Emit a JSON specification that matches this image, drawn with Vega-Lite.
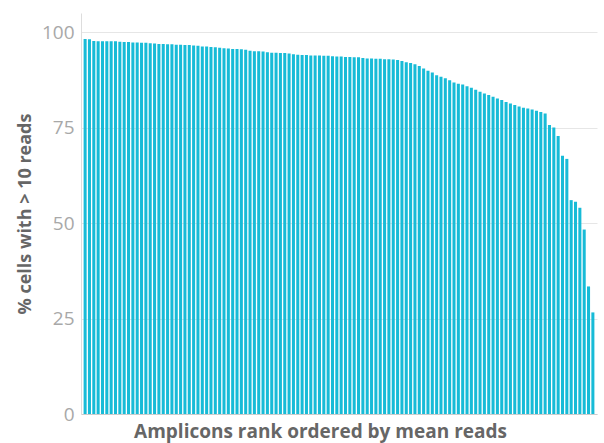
{
  "$schema": "https://vega.github.io/schema/vega-lite/v6.json",
  "width": 516,
  "height": 401,
  "autosize": {"type": "none"},
  "padding": {"left": 81, "top": 13, "right": 7, "bottom": 29},
  "background": "white",
  "config": {
    "view": {"stroke": null},
    "font": "Open Sans"
  },
  "data": {
    "values": [
      {"rank": 1, "pct": 98.2}, {"rank": 2, "pct": 98.1}, {"rank": 3, "pct": 97.7}, {"rank": 4, "pct": 97.6},
      {"rank": 5, "pct": 97.6}, {"rank": 6, "pct": 97.6}, {"rank": 7, "pct": 97.6}, {"rank": 8, "pct": 97.6},
      {"rank": 9, "pct": 97.5}, {"rank": 10, "pct": 97.4}, {"rank": 11, "pct": 97.4}, {"rank": 12, "pct": 97.3},
      {"rank": 13, "pct": 97.3}, {"rank": 14, "pct": 97.2}, {"rank": 15, "pct": 97.2}, {"rank": 16, "pct": 97.1},
      {"rank": 17, "pct": 97.0}, {"rank": 18, "pct": 96.9}, {"rank": 19, "pct": 96.9}, {"rank": 20, "pct": 96.8},
      {"rank": 21, "pct": 96.8}, {"rank": 22, "pct": 96.7}, {"rank": 23, "pct": 96.7}, {"rank": 24, "pct": 96.6},
      {"rank": 25, "pct": 96.6}, {"rank": 26, "pct": 96.5}, {"rank": 27, "pct": 96.4}, {"rank": 28, "pct": 96.2},
      {"rank": 29, "pct": 96.2}, {"rank": 30, "pct": 96.1}, {"rank": 31, "pct": 96.0}, {"rank": 32, "pct": 95.9},
      {"rank": 33, "pct": 95.8}, {"rank": 34, "pct": 95.7}, {"rank": 35, "pct": 95.6}, {"rank": 36, "pct": 95.6},
      {"rank": 37, "pct": 95.5}, {"rank": 38, "pct": 95.4}, {"rank": 39, "pct": 95.1}, {"rank": 40, "pct": 95.0},
      {"rank": 41, "pct": 95.0}, {"rank": 42, "pct": 94.9}, {"rank": 43, "pct": 94.7}, {"rank": 44, "pct": 94.6},
      {"rank": 45, "pct": 94.6}, {"rank": 46, "pct": 94.5}, {"rank": 47, "pct": 94.5}, {"rank": 48, "pct": 94.4},
      {"rank": 49, "pct": 94.2}, {"rank": 50, "pct": 94.1}, {"rank": 51, "pct": 94.0}, {"rank": 52, "pct": 94.0},
      {"rank": 53, "pct": 93.9}, {"rank": 54, "pct": 93.9}, {"rank": 55, "pct": 93.9}, {"rank": 56, "pct": 93.8},
      {"rank": 57, "pct": 93.8}, {"rank": 58, "pct": 93.7}, {"rank": 59, "pct": 93.6}, {"rank": 60, "pct": 93.6},
      {"rank": 61, "pct": 93.5}, {"rank": 62, "pct": 93.5}, {"rank": 63, "pct": 93.4}, {"rank": 64, "pct": 93.4},
      {"rank": 65, "pct": 93.2}, {"rank": 66, "pct": 93.1}, {"rank": 67, "pct": 93.1}, {"rank": 68, "pct": 93.0},
      {"rank": 69, "pct": 93.0}, {"rank": 70, "pct": 92.9}, {"rank": 71, "pct": 92.9}, {"rank": 72, "pct": 92.8},
      {"rank": 73, "pct": 92.7}, {"rank": 74, "pct": 92.4}, {"rank": 75, "pct": 92.1}, {"rank": 76, "pct": 91.9},
      {"rank": 77, "pct": 91.6}, {"rank": 78, "pct": 91.1}, {"rank": 79, "pct": 90.5}, {"rank": 80, "pct": 89.9},
      {"rank": 81, "pct": 89.4}, {"rank": 82, "pct": 88.7}, {"rank": 83, "pct": 88.3}, {"rank": 84, "pct": 87.9},
      {"rank": 85, "pct": 87.4}, {"rank": 86, "pct": 86.8}, {"rank": 87, "pct": 86.5}, {"rank": 88, "pct": 86.3},
      {"rank": 89, "pct": 85.8}, {"rank": 90, "pct": 85.4}, {"rank": 91, "pct": 84.9}, {"rank": 92, "pct": 84.4},
      {"rank": 93, "pct": 83.9}, {"rank": 94, "pct": 83.5}, {"rank": 95, "pct": 83.1}, {"rank": 96, "pct": 82.6},
      {"rank": 97, "pct": 82.2}, {"rank": 98, "pct": 81.7}, {"rank": 99, "pct": 81.3}, {"rank": 100, "pct": 80.9},
      {"rank": 101, "pct": 80.5}, {"rank": 102, "pct": 80.2}, {"rank": 103, "pct": 80.0}, {"rank": 104, "pct": 79.7},
      {"rank": 105, "pct": 79.4}, {"rank": 106, "pct": 79.1}, {"rank": 107, "pct": 78.7}, {"rank": 108, "pct": 75.7},
      {"rank": 109, "pct": 75.0}, {"rank": 110, "pct": 72.8}, {"rank": 111, "pct": 67.6}, {"rank": 112, "pct": 66.8},
      {"rank": 113, "pct": 56.0}, {"rank": 114, "pct": 55.6}, {"rank": 115, "pct": 54.0}, {"rank": 116, "pct": 48.3},
      {"rank": 117, "pct": 33.4}, {"rank": 118, "pct": 26.6}
    ]
  },
  "mark": {"type": "bar", "fill": "#17bbd7"},
  "encoding": {
    "x": {
      "field": "rank",
      "type": "ordinal",
      "scale": {"paddingInner": 0.3, "paddingOuter": 0.6},
      "axis": {
        "title": "Amplicons rank ordered by mean reads",
        "labels": false,
        "ticks": false,
        "domainColor": "#cccccc",
        "titleFontSize": 19,
        "titleFontWeight": "bold",
        "titleColor": "#666666",
        "titlePadding": 8,
        "titleX": 239,
        "titleAnchor": null,
        "titleAlign": "center"
      }
    },
    "y": {
      "field": "pct",
      "type": "quantitative",
      "scale": {"domain": [0, 105], "nice": false},
      "axis": {
        "title": "% cells with > 10 reads",
        "values": [0, 25, 50, 75, 100],
        "ticks": false,
        "domainColor": "#dddddd",
        "gridColor": "#e6e6e6",
        "labelColor": "#a8a8a8",
        "labelFontSize": 19,
        "labelPadding": 7,
        "titleFontSize": 18,
        "titleFontWeight": "bold",
        "titleColor": "#666666",
        "titlePadding": 7
      }
    }
  }
}
